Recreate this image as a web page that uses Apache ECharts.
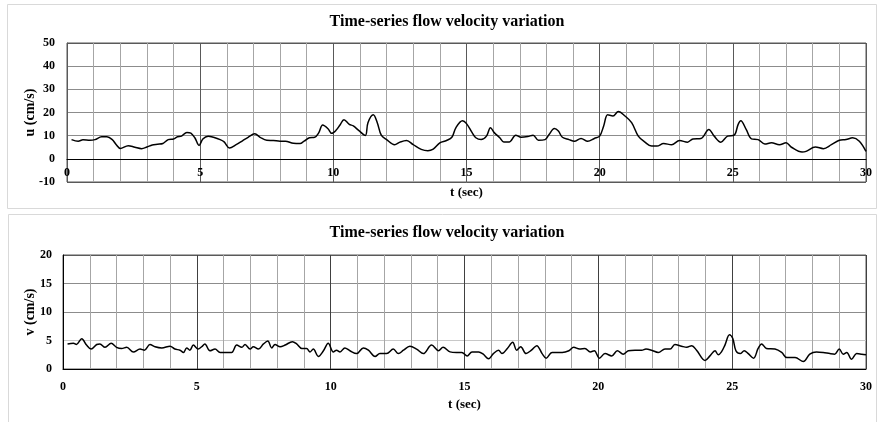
<!DOCTYPE html>
<html>
<head>
<meta charset="utf-8">
<script src="https://cdn.jsdelivr.net/npm/echarts@6/dist/echarts.min.js"></script>
<style>
html,body{margin:0;padding:0;background:#fff;}
#c{width:877px;height:422px;}
</style>
</head>
<body>
<div id="c"></div>
<script>
// ---- data ----
const chartTitle = 'Time-series flow velocity variation';
const xName = 't (sec)';
const uName = 'u (cm/s)';
const vName = 'v (cm/s)';

const uTime = [0.17,0.42,0.6,0.86,1.05,1.3,1.5,1.7,1.85,2.0,2.3,2.55,2.8,3.0,3.2,3.4,3.6,3.8,4.0,4.15,4.3,4.5,4.65,4.8,4.96,5.1,5.3,5.5,5.75,5.9,6.1,6.35,6.6,6.8,7.05,7.25,7.5,7.75,8.0,8.2,8.5,8.75,8.9,9.1,9.3,9.45,9.6,9.8,9.94,10.1,10.25,10.4,10.6,10.75,10.95,11.2,11.3,11.5,11.65,11.8,12.0,12.3,12.5,12.75,13.0,13.3,13.55,13.75,14.0,14.25,14.45,14.6,14.85,15.0,15.2,15.35,15.55,15.75,15.9,16.05,16.25,16.4,16.6,16.85,17.05,17.3,17.5,17.7,17.95,18.1,18.3,18.45,18.6,18.85,19.05,19.3,19.55,19.8,20.0,20.15,20.3,20.5,20.7,20.95,21.2,21.45,21.7,21.95,22.15,22.4,22.7,23.0,23.3,23.5,23.8,24.1,24.3,24.55,24.8,25.05,25.2,25.3,25.5,25.7,25.95,26.2,26.45,26.75,27.0,27.2,27.6,27.75,28.1,28.4,28.7,29.0,29.25,29.5,29.75,30.0];
const uVal = [8.3,7.6,8.2,8.0,8.3,9.5,9.5,8.3,6.1,4.5,5.7,5.0,4.4,5.1,6.0,6.3,6.6,8.3,8.6,9.5,9.8,11.4,11.1,9.1,5.8,8.6,9.8,9.3,8.3,7.3,4.7,6.1,7.9,9.3,10.8,9.3,8.0,7.9,7.6,7.6,6.7,6.6,7.6,9.1,9.3,11.2,14.6,13.0,11.0,12.3,14.6,16.9,14.9,14.2,12.3,10.1,15.6,19.0,15.6,10.2,8.3,6.1,7.2,7.9,6.1,4.1,3.5,4.2,6.9,7.9,9.3,13.4,16.4,15.2,11.5,9.1,8.3,9.8,13.4,11.2,9.1,7.3,7.3,10.2,9.3,9.6,10.2,8.0,8.3,10.5,13.1,12.0,9.3,8.3,7.6,8.8,7.6,8.8,9.8,14.2,19.0,18.5,20.4,18.5,15.6,9.8,7.2,5.5,5.5,6.6,6.1,7.9,7.2,8.6,8.8,12.7,9.8,7.2,9.8,10.2,14.9,16.4,12.7,8.6,8.3,6.4,6.9,6.1,6.9,5.0,2.9,3.2,5.1,4.4,6.1,8.0,8.3,9.1,7.6,3.2];

const vTime = [0.17,0.39,0.5,0.7,0.88,1.05,1.26,1.38,1.57,1.8,2.0,2.19,2.38,2.63,2.88,3.04,3.25,3.44,3.69,4.0,4.18,4.37,4.5,4.62,4.74,4.87,5.05,5.18,5.3,5.49,5.68,5.87,6.11,6.3,6.49,6.68,6.8,6.99,7.11,7.3,7.49,7.65,7.8,7.92,8.11,8.3,8.57,8.73,8.92,9.1,9.23,9.35,9.54,9.73,9.91,10.1,10.22,10.35,10.53,10.72,10.97,11.22,11.41,11.66,11.84,12.09,12.34,12.53,12.72,12.96,13.21,13.46,13.77,14.03,14.2,14.46,14.7,14.9,15.1,15.28,15.53,15.7,15.9,16.08,16.27,16.4,16.6,16.8,16.95,17.1,17.3,17.5,17.7,17.9,18.05,18.27,18.65,18.9,19.08,19.3,19.5,19.7,19.85,20.04,20.25,20.5,20.71,20.93,21.12,21.37,21.62,21.78,21.99,22.24,22.49,22.68,22.86,23.11,23.3,23.49,23.67,23.99,24.17,24.36,24.48,24.6,24.73,24.9,25.02,25.14,25.3,25.45,25.6,25.8,25.97,26.1,26.28,26.6,26.85,27.04,27.35,27.66,27.9,28.15,28.4,28.65,28.83,29.0,29.15,29.28,29.46,29.65,29.84,30.0];
const vVal = [4.4,4.5,4.3,5.3,4.2,3.5,4.3,4.4,3.8,4.5,3.8,3.6,3.8,3.0,3.5,3.3,4.3,3.9,3.7,4.0,3.5,3.3,2.9,3.7,3.3,4.2,3.5,3.9,4.4,3.2,3.5,2.9,2.9,2.9,4.2,3.8,4.3,3.5,3.9,3.5,4.4,4.9,3.7,4.3,3.9,4.2,4.8,4.4,3.6,3.6,3.0,3.5,2.2,3.2,4.5,3.0,3.3,3.0,3.7,3.2,2.7,3.7,3.3,2.2,2.7,2.7,3.5,2.7,3.3,4.0,3.5,2.7,4.2,3.2,3.8,3.0,2.9,2.9,2.3,3.0,3.0,2.6,1.8,2.7,3.3,2.7,3.6,4.7,3.3,3.9,2.7,3.3,4.1,2.7,1.9,2.9,2.9,3.2,3.8,3.5,3.6,3.0,3.2,1.9,2.7,2.3,3.2,2.6,3.2,3.3,3.3,3.5,3.3,2.9,3.5,3.5,4.3,4.0,3.8,4.1,3.3,1.5,2.3,3.2,2.5,3.0,4.2,6.0,5.4,3.2,2.7,3.2,2.7,1.9,3.6,4.4,3.6,3.5,2.9,2.0,2.0,1.3,2.6,3.0,2.9,2.7,2.6,3.5,2.6,2.9,1.7,2.7,2.6,2.5];

// ---- build ----
const uData = uTime.map((t,i)=>[t,uVal[i]]);
const vData = vTime.map((t,i)=>[t,vVal[i]]);

const FONT = '"Liberation Serif","Times New Roman",serif';
const lbl = {fontFamily:FONT,fontWeight:'bold',fontSize:12,color:'#000'};

function xAxisCfg(gi, majorColor, labelMargin, nameGap, offset, lineColor){
  return {
    type:'value', gridIndex:gi, min:0, max:30, interval:5, position:'bottom', offset:offset,
    name:xName, nameLocation:'middle', nameGap:nameGap, nameMoveOverlap:false,
    nameTextStyle:Object.assign({},lbl,{fontSize:13}),
    axisLine:{show:true,onZero:false,lineStyle:{color:lineColor,width:1}},
    axisTick:{show:false},
    axisLabel:Object.assign({margin:labelMargin},lbl),
    splitLine:{show:true,lineStyle:{color:majorColor,width:1}},
    minorTick:{show:false,splitNumber:5},
    minorSplitLine:{show:true,lineStyle:{color:'#a6a6a6',width:1}}
  };
}

const option = {
  animation:false,
  backgroundColor:'#fff',
  graphic:[
    {type:'rect',shape:{x:7.5,y:4.5,width:869,height:204},style:{fill:'none',stroke:'#d9d9d9',lineWidth:1},z:-10},
    {type:'rect',shape:{x:8.5,y:214.5,width:868,height:215},style:{fill:'none',stroke:'#d9d9d9',lineWidth:1},z:-10}
  ],
  title:[
    {text:chartTitle,left:447,top:14,textAlign:'center',padding:0,
     textStyle:{fontFamily:FONT,fontWeight:'bold',fontSize:16,color:'#000'}},
    {text:chartTitle,left:447,top:225,textAlign:'center',padding:0,
     textStyle:{fontFamily:FONT,fontWeight:'bold',fontSize:16,color:'#000'}}
  ],
  grid:[
    {left:67,top:43,width:799,height:139,show:true,borderColor:'#595959',borderWidth:1,backgroundColor:'transparent'},
    {left:63,top:255,width:803,height:114,show:true,borderColor:'#595959',borderWidth:1,backgroundColor:'transparent'}
  ],
  xAxis:[
    xAxisCfg(0,'#595959',8,27,-23.2,'#000'),
    xAxisCfg(1,'#404040',12,29,0,'#000')
  ],
  yAxis:[
    {type:'value',gridIndex:0,min:-10,max:50,interval:10,
     name:uName,nameLocation:'middle',nameGap:30,nameRotate:90,nameMoveOverlap:false,
     nameTextStyle:Object.assign({},lbl,{fontSize:14}),
     axisLine:{show:true,onZero:false,lineStyle:{color:'#595959'}},
     axisTick:{show:false},
     axisLabel:Object.assign({margin:12},lbl),
     splitLine:{show:true,lineStyle:{color:['#595959','#000','#8c8c8c','#8c8c8c','#8c8c8c','#8c8c8c','#595959'],width:1}}},
    {type:'value',gridIndex:1,min:0,max:20,interval:5,
     name:vName,nameLocation:'middle',nameGap:26,nameRotate:90,nameMoveOverlap:false,
     nameTextStyle:Object.assign({},lbl,{fontSize:14}),
     axisLine:{show:true,onZero:false,lineStyle:{color:'#000'}},
     axisTick:{show:false},
     axisLabel:Object.assign({margin:11},lbl),
     splitLine:{show:true,lineStyle:{color:['#000','#c8c8c8','#8c8c8c','#8c8c8c','#595959'],width:1}}}
  ],
  series:[
    {type:'line',xAxisIndex:0,yAxisIndex:0,data:uData,smooth:0.35,showSymbol:false,symbol:'none',
     lineStyle:{color:'#000',width:1.5},z:5},
    {type:'line',xAxisIndex:1,yAxisIndex:1,data:vData,smooth:0.35,showSymbol:false,symbol:'none',
     lineStyle:{color:'#000',width:1.5},z:5}
  ]
};
const chart = echarts.init(document.getElementById('c'),null,{renderer:'canvas'});
chart.setOption(option);
</script>
</body>
</html>
